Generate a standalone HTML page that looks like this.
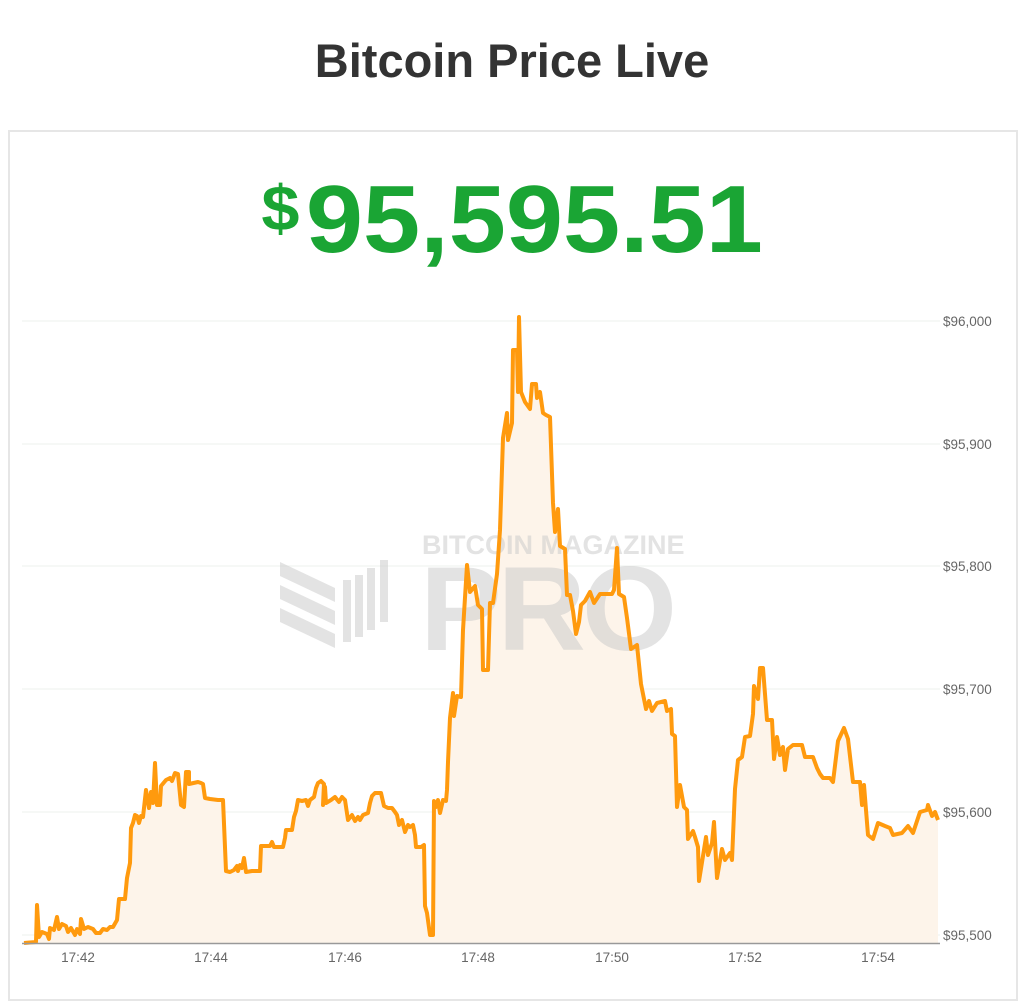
<!DOCTYPE html>
<html><head><meta charset="utf-8"><style>
body{margin:0;width:1024px;height:1008px;background:#fff;font-family:"Liberation Sans",sans-serif;overflow:hidden;position:relative}
.t{position:absolute;top:33px;left:0;width:1024px;text-align:center;font-size:47px;font-weight:bold;color:#333}
.card{position:absolute;left:8px;top:130px;width:1006px;height:867px;border:2px solid #e6e6e6}
.p{position:absolute;top:165px;left:0;width:1024px;text-align:center;color:#1aa534;font-weight:bold;font-size:96px;transform:scaleX(1.07);transform-origin:510px 0}
.p span{font-size:64px;vertical-align:22px;margin-right:6px}
</style></head><body>
<div class="t">Bitcoin Price Live</div>
<div class="card"></div>
<div class="p"><span>$</span>95,595.51</div>
<svg width="1024" height="1008" style="position:absolute;left:0;top:0" font-family="Liberation Sans, sans-serif">
<g stroke="#eef0ee" stroke-width="1">
<line x1="22" x2="940" y1="321" y2="321"/><line x1="22" x2="940" y1="444" y2="444"/><line x1="22" x2="940" y1="566" y2="566"/><line x1="22" x2="940" y1="689" y2="689"/><line x1="22" x2="940" y1="812" y2="812"/><line x1="22" x2="940" y1="935" y2="935"/>
</g>
<path fill="#fdf4ea" stroke="none" d="M24,943 L36,942 37,905 39,937 42,932 47,934 49,939 50,928 54,930 57,917 59,929 62,924 66,926 68,932 71,928 75,935 77,929 80,934 81,919 84,929 88,927 93,929 96,933 100,933 103,929 107,930 110,927 113,927 117,920 119,899 122,899 125,899 127,878 130,863 131,828 133,823 135,815 137,816 139,823 141,816 143,817 146,790 149,808 151,792 153,803 155,763 157,805 160,805 161,786 166,780 170,778 172,781 175,773 178,774 181,805 184,807 186,772 189,772 189,784 198,782 201,783 203,784 205,798 210,799 218,800 223,800 226,871 230,872 234,870 237,866 238,871 240,865 242,868 244,858 246,872 252,871 260,871 261,846 266,846 270,846 272,842 274,847 283,847 285,838 286,830 292,830 294,817 296,811 298,800 302,801 306,800 308,806 310,800 314,797 316,788 318,783 321,781 324,784 323,805 325,787 326,803 331,800 335,797 339,802 342,797 345,800 348,820 352,815 355,821 358,817 360,820 363,815 368,813 370,803 372,796 375,793 381,793 384,806 388,808 392,808 395,812 397,815 399,825 402,820 405,832 408,825 410,827 413,825 415,835 416,847 421,847 424,845 425,906 427,913 430,935 433,935 434,801 436,807 438,800 440,813 443,800 446,801 447,790 448,762 450,718 453,693 454,716 457,696 461,697 463,630 467,565 470,592 475,586 478,605 482,609 483,670 488,670 490,603 493,603 497,574 500,530 503,438 507,413 508,440 512,423 513,350 517,350 518,392 519,317 521,392 525,402 530,409 532,384 536,384 537,398 540,392 543,413 546,415 550,417 553,503 555,532 558,509 560,546 565,549 567,595 570,595 573,611 576,634 579,622 581,605 585,601 590,592 594,603 600,594 612,594 614,590 617,548 619,594 624,597 627,618 631,649 637,645 641,684 646,709 649,701 652,711 657,703 665,701 667,711 671,709 672,734 675,736 677,807 680,785 684,807 687,810 688,839 693,831 695,837 698,847 699,881 703,856 706,837 708,855 712,843 714,822 717,878 722,849 725,860 730,853 732,860 735,789 738,760 742,757 745,737 750,736 753,714 754,686 758,699 760,668 763,668 767,720 772,720 774,759 777,737 780,755 783,747 785,770 788,749 793,745 802,745 805,757 813,757 817,768 820,774 823,778 830,778 833,782 838,741 844,728 848,739 853,782 860,782 862,805 864,785 868,835 873,839 878,823 885,826 890,828 893,835 902,833 908,826 913,833 920,812 927,810 928,805 932,816 935,812 938,820 L938,943 Z"/>
<g fill="#c8c8c8" fill-opacity="0.5">
<text x="422" y="554" font-size="27" font-weight="bold">BITCOIN MAGAZINE</text>
<text x="420" y="650" font-size="120" font-weight="bold" letter-spacing="-4" transform="translate(420 650) scale(1.02 1) translate(-420 -650)">PRO</text>
<polygon points="280,562 335,588 335,602 280,576"/><polygon points="280,585 335,611 335,625 280,599"/><polygon points="280,608 335,634 335,648 280,622"/>
<rect x="343" y="580" width="8" height="62"/><rect x="355" y="575" width="8" height="62"/><rect x="367" y="568" width="8" height="62"/><rect x="380" y="560" width="8" height="62"/>
</g>
<polyline fill="none" stroke="#ff9a0e" stroke-width="4" stroke-linejoin="round" points="24,943 36,942 37,905 39,937 42,932 47,934 49,939 50,928 54,930 57,917 59,929 62,924 66,926 68,932 71,928 75,935 77,929 80,934 81,919 84,929 88,927 93,929 96,933 100,933 103,929 107,930 110,927 113,927 117,920 119,899 122,899 125,899 127,878 130,863 131,828 133,823 135,815 137,816 139,823 141,816 143,817 146,790 149,808 151,792 153,803 155,763 157,805 160,805 161,786 166,780 170,778 172,781 175,773 178,774 181,805 184,807 186,772 189,772 189,784 198,782 201,783 203,784 205,798 210,799 218,800 223,800 226,871 230,872 234,870 237,866 238,871 240,865 242,868 244,858 246,872 252,871 260,871 261,846 266,846 270,846 272,842 274,847 283,847 285,838 286,830 292,830 294,817 296,811 298,800 302,801 306,800 308,806 310,800 314,797 316,788 318,783 321,781 324,784 323,805 325,787 326,803 331,800 335,797 339,802 342,797 345,800 348,820 352,815 355,821 358,817 360,820 363,815 368,813 370,803 372,796 375,793 381,793 384,806 388,808 392,808 395,812 397,815 399,825 402,820 405,832 408,825 410,827 413,825 415,835 416,847 421,847 424,845 425,906 427,913 430,935 433,935 434,801 436,807 438,800 440,813 443,800 446,801 447,790 448,762 450,718 453,693 454,716 457,696 461,697 463,630 467,565 470,592 475,586 478,605 482,609 483,670 488,670 490,603 493,603 497,574 500,530 503,438 507,413 508,440 512,423 513,350 517,350 518,392 519,317 521,392 525,402 530,409 532,384 536,384 537,398 540,392 543,413 546,415 550,417 553,503 555,532 558,509 560,546 565,549 567,595 570,595 573,611 576,634 579,622 581,605 585,601 590,592 594,603 600,594 612,594 614,590 617,548 619,594 624,597 627,618 631,649 637,645 641,684 646,709 649,701 652,711 657,703 665,701 667,711 671,709 672,734 675,736 677,807 680,785 684,807 687,810 688,839 693,831 695,837 698,847 699,881 703,856 706,837 708,855 712,843 714,822 717,878 722,849 725,860 730,853 732,860 735,789 738,760 742,757 745,737 750,736 753,714 754,686 758,699 760,668 763,668 767,720 772,720 774,759 777,737 780,755 783,747 785,770 788,749 793,745 802,745 805,757 813,757 817,768 820,774 823,778 830,778 833,782 838,741 844,728 848,739 853,782 860,782 862,805 864,785 868,835 873,839 878,823 885,826 890,828 893,835 902,833 908,826 913,833 920,812 927,810 928,805 932,816 935,812 938,820"/>
<line x1="22" x2="940" y1="943.5" y2="943.5" stroke="#999" stroke-width="1.5"/>
<g fill="#666" font-size="13.5" text-anchor="middle">
<text x="78" y="962">17:42</text><text x="211" y="962">17:44</text><text x="345" y="962">17:46</text><text x="478" y="962">17:48</text><text x="612" y="962">17:50</text><text x="745" y="962">17:52</text><text x="878" y="962">17:54</text>
</g>
<g fill="#666" font-size="13.5">
<text x="943" y="326">$96,000</text><text x="943" y="449">$95,900</text><text x="943" y="571">$95,800</text><text x="943" y="694">$95,700</text><text x="943" y="817">$95,600</text><text x="943" y="940">$95,500</text>
</g>
</svg>
</body></html>
